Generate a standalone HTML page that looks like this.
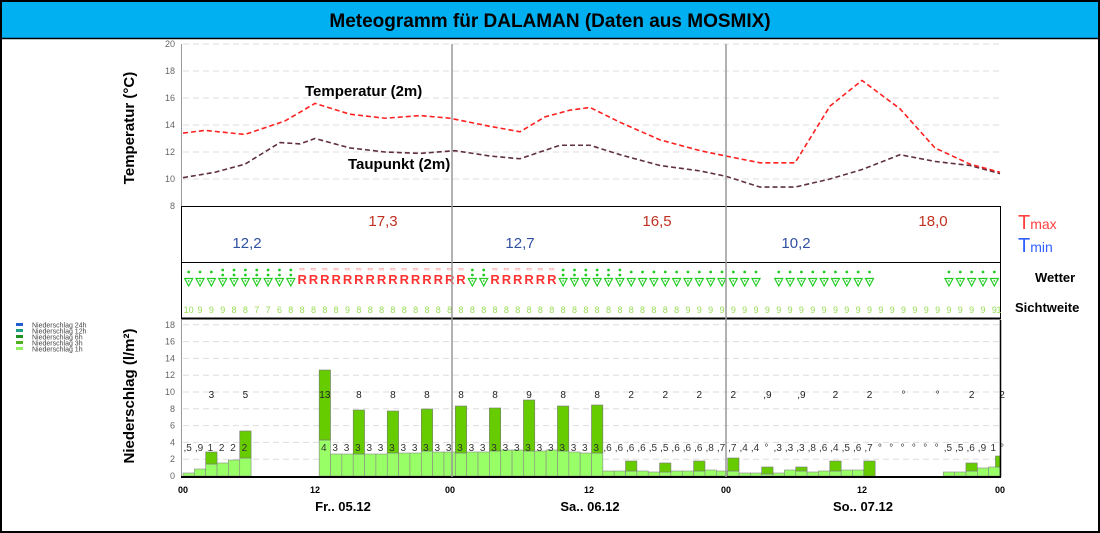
<!DOCTYPE html>
<html><head><meta charset="utf-8"><style>
body{margin:0;background:#fff;}
svg{display:block;font-family:"Liberation Sans","DejaVu Sans",sans-serif;}
</style></head><body>
<div id="wrap"></div>
<script>
(function(){
let h='<svg width="1100" height="533" xmlns="http://www.w3.org/2000/svg">';
h+='<rect x="1" y="1" width="1098" height="531" fill="#fff" stroke="#000" stroke-width="2"/><rect x="2" y="2" width="1096" height="36" fill="#00b0f0"/><line x1="2" y1="38.5" x2="1098" y2="38.5" stroke="#000" stroke-width="1.5"/><text x="550" y="27" text-anchor="middle" font-size="19" font-weight="bold" fill="#000">Meteogramm für DALAMAN (Daten aus MOSMIX)</text>';
const X0=183,W=(1000-183)/72;
const xh=t=>X0+t*W;
const yT=T=>44+(20-T)*13.5;
for(let T=8;T<=20;T+=2){const y=yT(T);h+=`<text x="175" y="${y+3}" text-anchor="end" font-size="9" fill="#666">${T}</text>`;if(T>8)h+=`<line x1="183" y1="${y}" x2="1000" y2="${y}" stroke="#ddd" stroke-dasharray="6,4"/>`;}
h+=`<line x1="181.5" y1="44" x2="181.5" y2="206" stroke="#999"/>`;
const tp=[[183,13.4],[205,13.6],[245,13.3],[285,14.3],[315,15.6],[350,14.8],[385,14.5],[420,14.7],[450,14.5],[490,13.9],[520,13.5],[545,14.6],[570,15.1],[590,15.3],[620,14.2],[660,12.9],[700,12.1],[726,11.7],[760,11.2],[795,11.2],[830,15.4],[862,17.3],[900,15.2],[935,12.3],[970,11.1],[1000,10.5]];
const dp=[[183,10.1],[215,10.5],[245,11.1],[280,12.7],[300,12.6],[315,13.0],[350,12.3],[385,12.0],[420,11.9],[455,12.1],[490,11.7],[520,11.5],[560,12.5],[590,12.5],[620,11.8],[660,11.0],[700,10.6],[726,10.2],[760,9.4],[795,9.4],[830,10.0],[862,10.7],[900,11.8],[935,11.3],[970,11.0],[1000,10.4]];
h+=`<polyline points="${dp.map(p=>p[0]+','+yT(p[1])).join(' ')}" fill="none" stroke="#603040" stroke-width="1.6" stroke-dasharray="5,3"/>`;
h+=`<polyline points="${tp.map(p=>p[0]+','+yT(p[1])).join(' ')}" fill="none" stroke="#ff2020" stroke-width="1.6" stroke-dasharray="5,3"/>`;
h+=`<text x="305" y="96" font-size="15" font-weight="bold">Temperatur (2m)</text><text x="348" y="169" font-size="15" font-weight="bold">Taupunkt (2m)</text>`;
h+=`<text transform="translate(134,128) rotate(-90)" text-anchor="middle" font-size="15" font-weight="bold">Temperatur (°C)</text>`;
h+=`<text transform="translate(134,396) rotate(-90)" text-anchor="middle" font-size="15" font-weight="bold">Niederschlag (l/m²)</text>`;
h+=`<rect x="181.5" y="206.5" width="819" height="56" fill="none" stroke="#000"/><rect x="181.5" y="262.5" width="819" height="56" fill="none" stroke="#000"/><line x1="181" y1="318.5" x2="1001" y2="318.5" stroke="#000" stroke-width="2"/>`;
[[383,'17,3'],[657,'16,5'],[933,'18,0']].forEach(a=>h+=`<text x="${a[0]}" y="226" text-anchor="middle" font-size="15" fill="#c03020">${a[1]}</text>`);
[[247,'12,2'],[520,'12,7'],[796,'10,2']].forEach(a=>h+=`<text x="${a[0]}" y="248" text-anchor="middle" font-size="15" fill="#3050a0">${a[1]}</text>`);
h+=`<text x="1018" y="229" font-size="20" fill="#ff4040">T<tspan font-size="14">max</tspan></text><text x="1018" y="252" font-size="20" fill="#3060ff">T<tspan font-size="14">min</tspan></text>`;
h+=`<text x="1035" y="282" font-size="13" font-weight="bold">Wetter</text><text x="1015" y="312" font-size="13" font-weight="bold">Sichtweite</text>`;
for(let t=0;t<72;t++){const cx=xh(t+0.5);let type;
 if(t<=2)type=1;else if(t<=9)type=2;else if(t<=24)type=3;else if(t<=26)type=2;else if(t<=32)type=3;else if(t<=38)type=2;else if(t<=50)type=1;else if(t==51)type=0;else if(t<=60)type=1;else if(t<=66)type=0;else type=1;
 if(type==3){h+=`<text x="${cx}" y="271" text-anchor="middle" font-size="5" fill="#f44">≈≈</text><text x="${cx}" y="284" text-anchor="middle" font-size="13" font-weight="bold" fill="#f33">R</text>`;}
 else if(type>0){h+=`<circle cx="${cx}" cy="${type==2?270:272}" r="1.4" fill="#2c2"/>`;if(type==2)h+=`<circle cx="${cx}" cy="275" r="1.4" fill="#2c2"/>`;h+=`<path d="M${cx-4},278.5 L${cx+4},278.5 L${cx},286 Z" fill="none" stroke="#2c2" stroke-width="1.2"/><circle cx="${cx}" cy="281" r="0.9" fill="#2c2"/>`;}
}
const vis=[10,9,9,9,8,8,7,7,6,8,8,8,8,8,9];for(let t=15;t<44;t++)vis.push(8);for(let t=44;t<72;t++)vis.push(9);vis.push(1);
vis.forEach((v,t)=>h+=`<text x="${Math.min(xh(t+0.5),999)}" y="313" text-anchor="middle" font-size="9" fill="#9d5">${v}</text>`);
const yP=v=>476-v*8.4;
for(let v=0;v<=18;v+=2){const y=yP(v);h+=`<text x="175" y="${y+3}" text-anchor="end" font-size="9" fill="#666">${v}</text>`;if(v>0)h+=`<line x1="183" y1="${y}" x2="1000" y2="${y}" stroke="#ddd" stroke-dasharray="6,4"/>`;}
const lg=[['#2060d0','Niederschlag 24h'],['#20a080','Niederschlag 12h'],['#209020','Niederschlag 6h'],['#50b020','Niederschlag 3h'],['#90f060','Niederschlag 1h']];
lg.forEach((l,i)=>{const y=325+i*6;h+=`<rect x="16" y="${y-2}" width="7" height="3" fill="${l[0]}"/><text x="32" y="${y+2.5}" font-size="7" fill="#444">${l[1]}</text>`;});
const light=[3,7,12,13,16,18,0,0,0,0,0,0,36,22,22,22,22,22,23,23,23,25,24,24,23,24,24,25,26,26,25,25,26,25,24,23,23,5,5,5,5,4,4,5,5,5,6,5,5,3,3,2,3,6,5,4,5,5,6,6,0,0,0,0,0,0,0,4,4,5,8,9];
const dark={2:24,5:45,12:106,15:66,18:65,21:67,24:70,27:68,30:76,33:70,36:71,39:15,42:13,45:15,48:18,51:9,54:9,57:15,60:15,69:13,71.6:20};
light.forEach((p,t)=>{if(p>0)h+=`<rect x="${xh(t)}" y="${476-p}" width="${W}" height="${p}" fill="#9f6" stroke="#888" stroke-width="0.6"/>`;});
Object.keys(dark).forEach(k=>{const t=+k,p=dark[k];const w=t>71?W*0.4:W;const lp=light[Math.floor(t)]||0;h+=`<rect x="${xh(t)}" y="${476-p}" width="${w}" height="${p-lp}" fill="#6c0" stroke="#777" stroke-width="0.6"/>`;});
const topL={2:'3',5:'5',12:'13',15:'8',18:'8',21:'8',24:'8',27:'8',30:'9',33:'8',36:'8',39:'2',42:'2',45:'2',48:'2',51:',9',54:',9',57:'2',60:'2',63:'°',66:'°',69:'2',72:'2'};
Object.keys(topL).forEach(k=>h+=`<text x="${Math.min(xh(+k+0.5),1002)}" y="398" text-anchor="middle" font-size="10" fill="#222">${topL[k]}</text>`);
const bl=[',5',',9','1','2','2','2','','','','','','','4'];for(let t=13;t<=36;t++)bl.push('3');
bl.push(...',6 ,6 ,6 ,6 ,5 ,5 ,6 ,6 ,6 ,8 ,7 ,7 ,4 ,4 ° ,3 ,3 ,3 ,8 ,6 ,4 ,5 ,6 ,7 ° ° ° ° ° ° ,5 ,5 ,6 ,9 1 °'.split(' '));
bl.forEach((l,t)=>{if(l)h+=`<text x="${Math.min(xh(t+0.5)-1,1002)}" y="451" text-anchor="middle" font-size="10" fill="#333">${l}</text>`;});
h+=`<line x1="181.5" y1="320" x2="181.5" y2="477" stroke="#999"/><line x1="181" y1="477" x2="1001" y2="477" stroke="#000" stroke-width="2"/><line x1="1000.5" y1="320" x2="1000.5" y2="477" stroke="#000" stroke-width="1.5"/>`;
[452,726].forEach(x=>h+=`<line x1="${x}" y1="44" x2="${x}" y2="477" stroke="#999" stroke-width="1.5"/>`);
[[183,'00'],[315,'12'],[450,'00'],[589,'12'],[726,'00'],[862,'12'],[1000,'00']].forEach(a=>h+=`<text x="${a[0]}" y="493" text-anchor="middle" font-size="9" font-weight="bold">${a[1]}</text>`);
[[343,'Fr.. 05.12'],[590,'Sa.. 06.12'],[863,'So.. 07.12']].forEach(a=>h+=`<text x="${a[0]}" y="511" text-anchor="middle" font-size="13" font-weight="bold">${a[1]}</text>`);
h+='</svg>';
document.getElementById('wrap').innerHTML=h;
})();
</script>
</body></html>
